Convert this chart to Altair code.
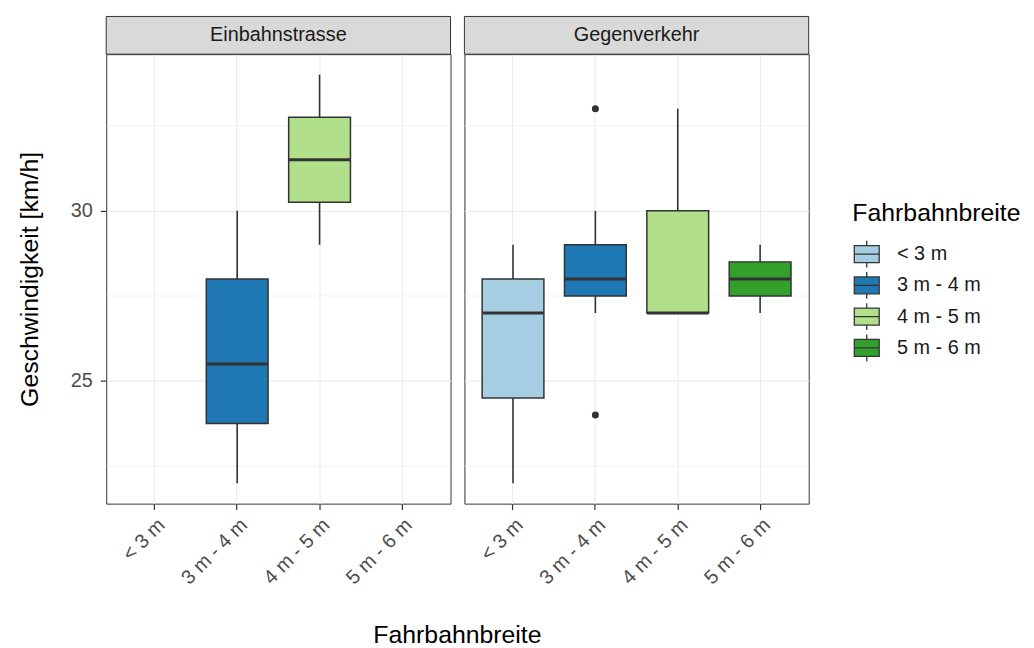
import altair as alt
import pandas as pd

categories = ["< 3 m", "3 m - 4 m", "4 m - 5 m", "5 m - 6 m"]
colors = ["#A6CEE3", "#1F78B4", "#B2DF8A", "#33A02C"]
panels = ["Einbahnstrasse", "Gegenverkehr"]

box_panel = ["Einbahnstrasse", "Einbahnstrasse", "Gegenverkehr", "Gegenverkehr", "Gegenverkehr", "Gegenverkehr"]
box_cat = ["3 m - 4 m", "4 m - 5 m", "< 3 m", "3 m - 4 m", "4 m - 5 m", "5 m - 6 m"]
whisker_low = [22, 29, 22, 27, 27, 27]
q1 = [23.75, 30.25, 24.5, 27.5, 27, 27.5]
median = [25.5, 31.5, 27, 28, 27, 28]
q3 = [28, 32.75, 28, 29, 30, 28.5]
whisker_high = [30, 34, 29, 30, 33, 29]

outlier_panel = ["Gegenverkehr", "Gegenverkehr"]
outlier_cat = ["3 m - 4 m", "3 m - 4 m"]
outlier_value = [33, 24]

y_breaks = [25, 30]
y_minor = [22.5, 27.5, 32.5]
y_range = [21.4, 34.6]

box_df = pd.DataFrame({
    "panel": box_panel, "cat": box_cat, "lo": whisker_low, "q1": q1,
    "med": median, "q3": q3, "hi": whisker_high,
})
out_df = pd.DataFrame({"panel": outlier_panel, "cat": outlier_cat, "v": outlier_value})
minor_df = pd.DataFrame({"m": y_minor})

W, H, STRIP = 347, 453, 38
FONT = "Liberation Sans"
DARK = "#333333"

box_legend_path = ("M-0.93,-0.63 L0.93,-0.63 L0.93,0.63 L-0.93,0.63 Z "
                   "M-0.93,0 L0.93,0 M0,-0.63 L0,-1 M0,0.63 L0,1")


def panel(name, first):
    xscale = alt.Scale(domain=categories, paddingInner=0.25, paddingOuter=0.215)
    xaxis = alt.Axis(title=None, labelAngle=315, labelAlign="right", labelBaseline="top",
                     bandPosition=0.5, labelFontSize=20, labelColor="#4D4D4D",
                     tickColor=DARK, tickSize=6, tickWidth=1.2, domain=False, grid=True,
                     gridColor="#EBEBEB", gridWidth=1.1, labelPadding=5, labelFont=FONT)
    yscale = alt.Scale(domain=y_range, nice=False, zero=False)
    if first:
        yaxis = alt.Axis(values=y_breaks, title="Geschwindigkeit [km/h]", titleFontSize=25,
                         titleFont=FONT, titleFontWeight="normal", titleColor="black",
                         titlePadding=28, labelFontSize=20, labelColor="#4D4D4D",
                         labelFont=FONT, tickColor=DARK, tickSize=6, tickWidth=1.2,
                         labelPadding=8, domain=False, grid=True, gridColor="#EBEBEB",
                         gridWidth=1.1)
    else:
        yaxis = alt.Axis(values=y_breaks, title=None, labels=False, ticks=False,
                         domain=False, grid=True, gridColor="#EBEBEB", gridWidth=1.1)

    base = alt.Chart(box_df).transform_filter(alt.datum.panel == name)

    minor = alt.Chart(minor_df).mark_rule(color="#EBEBEB", strokeWidth=0.6).encode(
        y=alt.Y("m:Q", scale=yscale, axis=yaxis)
    )
    whisk = base.mark_rule(color=DARK, strokeWidth=1.6).encode(
        x=alt.X("cat:N", scale=xscale, axis=xaxis),
        y=alt.Y("lo:Q", scale=yscale, axis=yaxis),
        y2="hi:Q",
    )
    boxes = base.mark_bar(stroke=DARK, strokeWidth=1.5).encode(
        x=alt.X("cat:N", scale=xscale, axis=xaxis),
        y=alt.Y("q1:Q", scale=yscale, axis=yaxis),
        y2="q3:Q",
        fill=alt.Fill("cat:N", scale=alt.Scale(domain=categories, range=colors),
                      legend=alt.Legend(title="Fahrbahnbreite", orient="none",
                                        legendX=752, legendY=148)),
    )
    med = base.mark_tick(color=DARK, size=62, thickness=3, opacity=1).encode(
        x=alt.X("cat:N", scale=xscale, axis=xaxis),
        y=alt.Y("med:Q", scale=yscale, axis=yaxis),
    )
    outl = alt.Chart(out_df).transform_filter(alt.datum.panel == name).mark_circle(
        size=50, color=DARK, opacity=1).encode(
        x=alt.X("cat:N", scale=xscale, axis=xaxis),
        y=alt.Y("v:Q", scale=yscale, axis=yaxis),
    )
    strip_rect = alt.Chart(alt.Data(values=[{"t": name}])).mark_rect(
        fill="#D9D9D9", stroke=DARK, strokeWidth=1).encode(
        x=alt.value(0), x2=alt.value(W), y=alt.value(-STRIP), y2=alt.value(0)
    )
    strip_text = alt.Chart(alt.Data(values=[{"t": name}])).mark_text(
        font=FONT, fontSize=20, color="#1A1A1A", baseline="middle", align="center").encode(
        x=alt.value(W / 2), y=alt.value(-STRIP / 2), text="t:N"
    )
    layers = [minor, whisk, boxes, med, outl, strip_rect, strip_text]
    if first:
        xtitle = alt.Chart(alt.Data(values=[{"t": "Fahrbahnbreite"}])).mark_text(
            font=FONT, fontSize=25, color="black", baseline="alphabetic", align="center").encode(
            x=alt.value(W + 7), y=alt.value(593), text="t:N"
        )
        layers.append(xtitle)
    return alt.layer(*layers).properties(width=W, height=H)


chart = alt.hconcat(panel(panels[0], True), panel(panels[1], False),
                    spacing=14, bounds="flush").properties(
    padding={"left": 9, "top": 5, "right": 5, "bottom": 0}
).configure(font=FONT).configure_view(stroke=DARK, strokeWidth=1).configure_legend(
    titleFontSize=25, titleFont=FONT, titleFontWeight="normal", titleColor="black",
    labelFontSize=20, labelFont=FONT, labelColor="#1A1A1A",
    symbolType=box_legend_path, symbolSize=729, symbolStrokeColor=DARK,
    symbolStrokeWidth=1.3, rowPadding=-1.5, titlePadding=14, labelOffset=16,
)

chart.save("out.html", embed_options={"renderer": "svg", "actions": False})
